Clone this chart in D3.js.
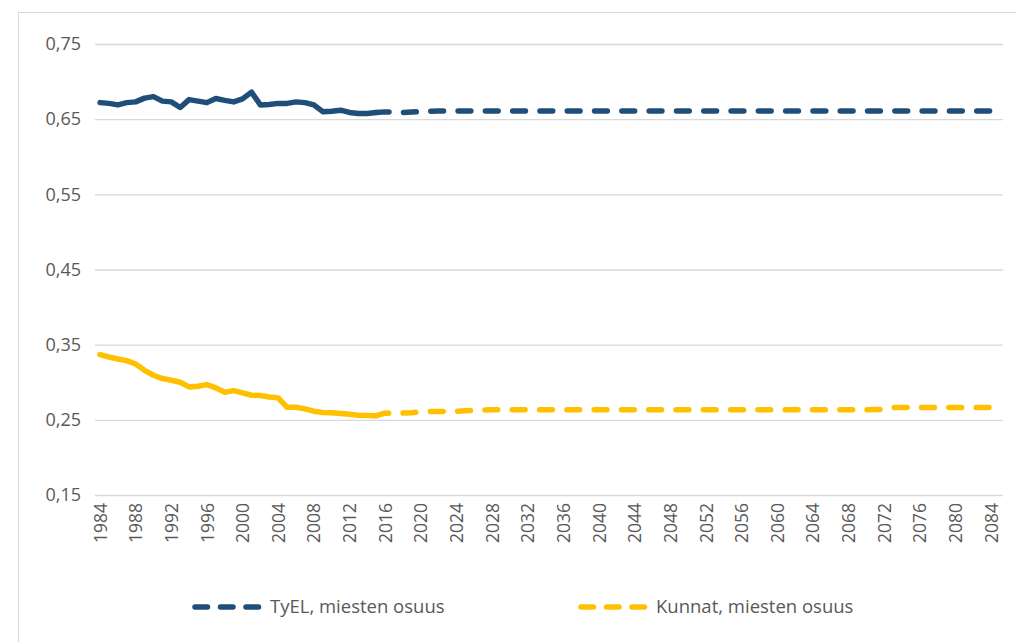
<!DOCTYPE html>
<html>
<head>
<meta charset="utf-8">
<script src="https://cdnjs.cloudflare.com/ajax/libs/d3/7.8.5/d3.min.js"></script>
<style>
  body { margin: 0; background: #fff; }
  svg { display: block; font-family: "Open Sans", sans-serif; }
</style>
</head>
<body>
<div id="chart"></div>
<script>
// years on the category axis, 1984..2084
const years = d3.range(1984, 2085);
const tickYears = d3.range(1984, 2085, 4);
const yTicks = [0.15, 0.25, 0.35, 0.45, 0.55, 0.65, 0.75];
const lastHistYear = 2015; // solid up to here, dashed (projection) after

// TyEL, miesten osuus (one row = 10 years, first row starts 1984)
const tyel = [
  0.672, 0.671, 0.669, 0.672, 0.673, 0.678, 0.680, 0.674, 0.673, 0.6655, // 1984-1993
  0.676, 0.674, 0.672, 0.6775, 0.675, 0.673, 0.677, 0.686, 0.669, 0.6695, // 1994-2003
  0.671, 0.671, 0.673, 0.672, 0.669, 0.660, 0.6606, 0.662, 0.659, 0.6576, // 2004-2013
  0.6576, 0.659, 0.6597, 0.6595, 0.659, 0.6595, 0.660, 0.6605, 0.661, 0.661, // 2014-2023
  0.661, 0.661, 0.661, 0.661, 0.661, 0.661, 0.661, 0.661, 0.661, 0.661, // 2024-2033
  0.661, 0.661, 0.661, 0.661, 0.661, 0.661, 0.661, 0.661, 0.661, 0.661, // 2034-2043
  0.661, 0.661, 0.661, 0.661, 0.661, 0.661, 0.661, 0.661, 0.661, 0.661, // 2044-2053
  0.661, 0.661, 0.661, 0.661, 0.661, 0.661, 0.661, 0.661, 0.661, 0.661, // 2054-2063
  0.661, 0.661, 0.661, 0.661, 0.661, 0.661, 0.661, 0.661, 0.661, 0.661, // 2064-2073
  0.661, 0.661, 0.661, 0.661, 0.661, 0.661, 0.661, 0.661, 0.661, 0.661, // 2074-2083
  0.661                                                                  // 2084
];

// Kunnat, miesten osuus
const kunnat = [
  0.3367, 0.3336, 0.331, 0.3288, 0.3243, 0.3159, 0.3093, 0.3049, 0.3026, 0.300,   // 1984-1993
  0.2938, 0.2946, 0.2969, 0.2925, 0.2867, 0.2889, 0.2858, 0.2827, 0.2823, 0.2805, // 1994-2003
  0.2792, 0.2667, 0.2667, 0.2646, 0.2615, 0.2597, 0.2593, 0.2584, 0.2574, 0.2561, // 2004-2013
  0.2557, 0.2555, 0.259, 0.2585, 0.259, 0.2595, 0.2605, 0.261, 0.261, 0.261,      // 2014-2023
  0.2615, 0.262, 0.2625, 0.263, 0.2633, 0.2633, 0.2633, 0.2633, 0.2633, 0.2633,   // 2024-2033
  0.2633, 0.2633, 0.2633, 0.2633, 0.2633, 0.2633, 0.2633, 0.2633, 0.2633, 0.2633, // 2034-2043
  0.2633, 0.2633, 0.2633, 0.2633, 0.2633, 0.2633, 0.2633, 0.2633, 0.2633, 0.2633, // 2044-2053
  0.2633, 0.2633, 0.2633, 0.2633, 0.2633, 0.2633, 0.2633, 0.2633, 0.2633, 0.2633, // 2054-2063
  0.2633, 0.2633, 0.2633, 0.2633, 0.2633, 0.2633, 0.2633, 0.2638, 0.2640, 0.2663, // 2064-2073
  0.2663, 0.2663, 0.2663, 0.2663, 0.2663, 0.2663, 0.2663, 0.2663, 0.2663, 0.2663, // 2074-2083
  0.2663                                                                          // 2084
];

const seriesNames = ['TyEL, miesten osuus', 'Kunnat, miesten osuus'];
const seriesColors = ['#1f4e79', '#ffc000'];

const svgWidth = 1016, svgHeight = 642;
const plot = {left: 95, right: 1003, top: 44, bottom: 495};

const svg = d3.select('#chart')
    .append('svg')
    .attr('width', svgWidth)
    .attr('height', svgHeight);

// chart border (only left / top visible in the crop)
svg.append('rect')
    .attr('x', 18.5).attr('y', 12.5)
    .attr('width', 1100).attr('height', 700)
    .attr('fill', 'none')
    .attr('stroke', '#d9d9d9');

const x = d3.scaleLinear().domain([1984, 2084]).range([100, 991]);
const y = d3.scaleLinear().domain([0.15, 0.75]).range([plot.bottom, plot.top]);

// gridlines + y labels
const yAxis = d3.axisLeft(y)
    .tickValues(yTicks)
    .tickSize(-(plot.right - plot.left))
    .tickPadding(14)
    .tickFormat(d => d3.format('.2f')(d).replace('.', ','));

svg.append('g')
    .attr('transform', `translate(${plot.left},0)`)
    .call(yAxis)
    .call(g => g.select('.domain').remove())
    .call(g => g.selectAll('.tick line').attr('stroke', '#d9d9d9').attr('stroke-width', 1.3))
    .call(g => g.selectAll('.tick text')
        .attr('fill', '#595959')
        .style('font-size', '18px')
        .style('font-family', '"Open Sans", sans-serif'));

// x labels (rotated)
const xAxis = d3.axisBottom(x)
    .tickValues(tickYears)
    .tickSize(0)
    .tickFormat(d3.format('d'));

svg.append('g')
    .attr('transform', `translate(0,${plot.bottom})`)
    .call(xAxis)
    .call(g => g.select('.domain').remove())
    .call(g => g.selectAll('.tick text')
        .attr('fill', '#595959')
        .style('font-size', '17.5px')
        .style('font-family', '"Open Sans", sans-serif')
        .attr('transform', 'rotate(-90)')
        .attr('text-anchor', 'end')
        .attr('x', -8)
        .attr('y', 0)
        .attr('dy', '0.35em'));

const line = d3.line()
    .x(d => x(d.year))
    .y(d => y(d.value));

[tyel, kunnat].forEach((vals, i) => {
  const pts = years.map((yr, j) => ({year: yr, value: vals[j]}));
  const hist = pts.filter(d => d.year <= lastHistYear);
  const proj = pts.filter(d => d.year >= lastHistYear);

  svg.append('path')
      .datum(hist)
      .attr('fill', 'none')
      .attr('stroke', seriesColors[i])
      .attr('stroke-width', 5.5)
      .attr('stroke-linejoin', 'round')
      .attr('stroke-linecap', 'round')
      .attr('d', line);

  svg.append('path')
      .datum(proj)
      .attr('fill', 'none')
      .attr('stroke', seriesColors[i])
      .attr('stroke-width', 5.5)
      .attr('stroke-linejoin', 'round')
      .attr('stroke-linecap', 'round')
      .attr('stroke-dasharray', '12.8 14.5')
      .attr('d', line);
});

// legend
const legendX = [192, 578];
const legend = svg.append('g');
seriesNames.forEach((name, i) => {
  const g = legend.append('g').attr('transform', `translate(${legendX[i]},607)`);
  g.append('line')
      .attr('x1', 3).attr('x2', 67)
      .attr('stroke', seriesColors[i])
      .attr('stroke-width', 5.5)
      .attr('stroke-linecap', 'round')
      .attr('stroke-dasharray', '12.5 13');
  g.append('text')
      .attr('x', 78)
      .attr('dy', '0.35em')
      .attr('fill', '#595959')
      .style('font-size', '18.5px')
      .text(name);
});
</script>
</body>
</html>
